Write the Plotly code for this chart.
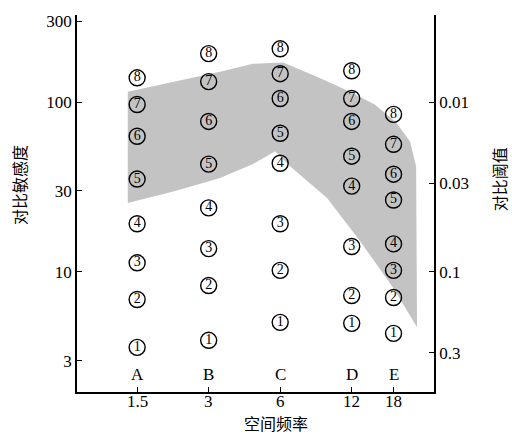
import plotly.graph_objects as go
import numpy as np

# ---- data ----
freqs = [1.5, 3, 6, 12, 18]
freq_labels = ["1.5", "3", "6", "12", "18"]
column_letters = ["A", "B", "C", "D", "E"]
levels = ["1", "2", "3", "4", "5", "6", "7", "8"]

sens_A = [3.59, 6.87, 11.3, 19.2, 35.2, 62.9, 96.8, 139]
sens_B = [3.95, 8.3, 13.7, 23.8, 43.1, 76.9, 132, 193]
sens_C = [5.04, 10.2, 19.2, 43.6, 65.5, 105, 147, 206]
sens_D = [4.97, 7.25, 14.1, 32.0, 48.0, 76.9, 105, 153]
sens_E = [4.34, 7.06, 10.2, 14.6, 26.5, 37.6, 56.4, 84.6]
columns = [sens_A, sens_B, sens_C, sens_D, sens_E]

# shaded band (outline: upper edge left->right, then lower edge right->left)
band_freq = [1.37, 2.17, 3.35, 4.61, 6.17, 8.57, 11.8, 15.0, 18.3, 21.1, 22.4, 22.6,
             17.9, 13.0, 9.45, 6.60, 5.71, 4.61, 3.35, 2.17, 1.37]
band_sens = [115, 132, 151, 168, 171, 141, 115, 96.8, 76.9, 58.7, 41.9, 4.71,
             8.08, 15.2, 27.2, 41.9, 51.3, 43.1, 35.7, 29.9, 25.4]

sens_ticks = [3, 10, 30, 100, 300]
sens_tick_labels = ["3", "10", "30", "100", "300"]
thr_ticks = [0.003, 0.01, 0.03, 0.1, 0.3]
thr_tick_labels = ["0.003", "0.01", "0.03", "0.1", "0.3"]

x_title = "空间频率"
y_title = "对比敏感度"
y2_title = "对比阈值"

# ---- figure ----
serif = "Liberation Serif, Times New Roman, serif"
cjk = "Noto Sans CJK SC"

W, H = 512, 434
l, r, t, b = 77, 78, 13, 42
pw, ph = W - l - r, H - t - b

def px_to_paper(px, py):
    return (px - l) / pw, (H - b - py) / ph

x_range = [-0.077, 1.4255]
y_range = [0.292, 2.513]

fig = go.Figure()

fig.add_trace(go.Scatter(
    x=band_freq, y=band_sens, mode="lines", fill="toself",
    fillcolor="#c3c3c3", line=dict(width=0, color="#c3c3c3"),
    hoverinfo="skip", showlegend=False))

for f, col in zip(freqs, columns):
    fig.add_trace(go.Scatter(
        x=[f] * len(col), y=col, mode="markers+text",
        text=levels, textposition="middle center",
        textfont=dict(family=serif, size=14, color="black"),
        marker=dict(symbol="circle", size=16, color="rgba(0,0,0,0)",
                    line=dict(color="black", width=1.4)),
        showlegend=False, hoverinfo="skip"))

# invisible trace to carry the threshold axis
fig.add_trace(go.Scatter(
    x=[freqs[0]], y=[1.0 / sens_A[0]], yaxis="y2", mode="markers",
    marker=dict(opacity=0), showlegend=False, hoverinfo="skip"))

_, letters_y = px_to_paper(0, 374)
for f, letter in zip(freqs, column_letters):
    fig.add_annotation(x=np.log10(f), y=letters_y, xref="x", yref="paper",
                       text=letter, showarrow=False, yanchor="middle",
                       font=dict(family=serif, size=17, color="black"))

# x tick labels placed just under the axis
_, xlab_y = px_to_paper(0, 402)
for f, lab in zip(freqs, freq_labels):
    fig.add_annotation(x=np.log10(f), y=xlab_y, xref="x", yref="paper",
                       text=lab, showarrow=False, yanchor="middle", borderpad=0,
                       font=dict(family=serif, size=17, color="black"))

for txt, (px, py), ang in [(x_title, (276, 423.5), 0),
                           (y_title, (19, 184), -90),
                           (y2_title, (499, 178), -90)]:
    ax, ay = px_to_paper(px, py)
    fig.add_annotation(x=ax, y=ay, xref="paper", yref="paper", text=txt,
                       showarrow=False, textangle=ang,
                       xanchor="center", yanchor="middle", borderpad=0,
                       font=dict(family=cjk, size=16, color="black"))

axis_common = dict(showgrid=False, zeroline=False, showline=True,
                   linecolor="black", linewidth=1.5, ticks="inside",
                   ticklen=5, tickwidth=1.2, tickcolor="black",
                   tickfont=dict(family=serif, size=17, color="black"))

fig.update_layout(
    width=W, height=H,
    margin=dict(l=l, r=r, t=t, b=b, pad=0),
    paper_bgcolor="white", plot_bgcolor="white",
    xaxis=dict(type="log", range=x_range, tickmode="array",
               tickvals=freqs, showticklabels=False, **axis_common),
    yaxis=dict(type="log", range=y_range, tickmode="array",
               tickvals=sens_ticks, ticktext=sens_tick_labels, **axis_common),
    yaxis2=dict(type="log", range=[-y_range[0], -y_range[1]], overlaying="y",
                side="right", tickmode="array", tickvals=thr_ticks,
                ticktext=thr_tick_labels, **axis_common),
)

fig.write_html("out.html", config={"displayModeBar": False},
               post_script="document.body.style.margin='0px';"
                           "document.body.style.overflow='hidden';")
